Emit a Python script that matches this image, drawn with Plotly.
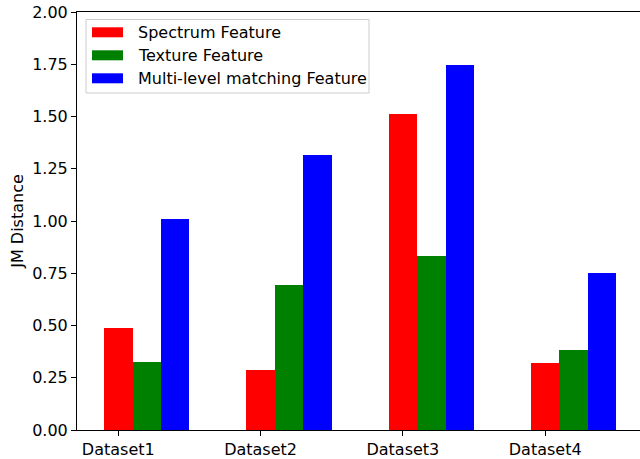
import plotly.graph_objects as go

# Data
datasets = ["Dataset1", "Dataset2", "Dataset3", "Dataset4"]
series_names = ["Spectrum Feature", "Texture Feature", "Multi-level matching Feature"]
spectrum = [0.487, 0.286, 1.511, 0.319]
texture = [0.324, 0.694, 0.833, 0.384]
multilevel = [1.010, 1.316, 1.746, 0.750]
y_ticks = [0.0, 0.25, 0.5, 0.75, 1.0, 1.25, 1.5, 1.75, 2.0]

series_values = [spectrum, texture, multilevel]
colors = ["#ff0000", "#008000", "#0000ff"]
bar_w = 0.2

W, H = 640, 459
ML, MR, MT, MB = 77, 0, 12, 29
PW, PH = W - ML - MR, H - MT - MB
FONT = "DejaVu Sans"
FS = 16

fig = go.Figure()
for j, (name, vals, col) in enumerate(zip(series_names, series_values, colors)):
    fig.add_trace(go.Bar(
        x=[i + j * bar_w for i in range(len(datasets))],
        y=vals,
        width=bar_w,
        name=name,
        marker=dict(color=col, line=dict(width=0)),
        showlegend=False,
    ))

# Hand-built legend (wide colour patches, boxed)
def px_x(p):
    return (p - ML) / PW

def px_y(p):
    return (H - MB - p) / PH

fig.add_shape(type="rect", xref="paper", yref="paper",
              x0=px_x(86), x1=px_x(369), y0=px_y(93), y1=px_y(19.5),
              line=dict(color="#cccccc", width=1), fillcolor="rgba(255,255,255,0.8)",
              layer="above")
for k, (name, col) in enumerate(zip(series_names, colors)):
    cy = 32.3 + k * 23
    fig.add_shape(type="rect", xref="paper", yref="paper",
                  x0=px_x(92), x1=px_x(123), y0=px_y(cy + 5), y1=px_y(cy - 5),
                  line=dict(width=0), fillcolor=col, layer="above")
    fig.add_annotation(xref="paper", yref="paper", x=px_x(135.5), y=px_y(cy),
                       text=name, showarrow=False, xanchor="left", yanchor="middle",
                       font=dict(family=FONT, size=FS, color="black"))

fig.update_layout(
    width=W, height=H,
    margin=dict(l=ML, r=MR, t=MT, b=MB),
    paper_bgcolor="white", plot_bgcolor="white",
    font=dict(family=FONT, size=FS, color="black"),
    bargap=0,
    xaxis=dict(
        range=[-0.29, (W - 118.3) / 142.3],
        tickmode="array", tickvals=list(range(len(datasets))), ticktext=datasets,
        showgrid=False, zeroline=False,
        showline=True, linecolor="black", linewidth=1, mirror=True,
        ticks="outside", ticklen=5, tickcolor="black", tickwidth=1,
        tickfont=dict(family=FONT, size=FS, color="black"),
    ),
    yaxis=dict(
        range=[0, 2.0],
        tickmode="array", tickvals=y_ticks, tickformat=".2f",
        showgrid=False, zeroline=False,
        showline=True, linecolor="black", linewidth=1, mirror=False,
        ticks="outside", ticklen=5, tickcolor="black", tickwidth=1,
        tickfont=dict(family=FONT, size=FS, color="black"),
        title=dict(text="JM Distance", font=dict(family=FONT, size=FS, color="black"), standoff=4),
    ),
)

fig.write_html("out.html")
